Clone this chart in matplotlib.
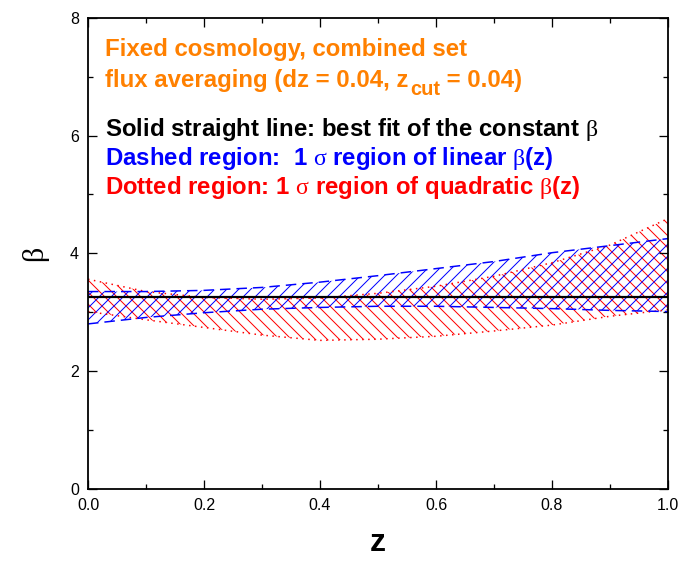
import numpy as np
import matplotlib
matplotlib.use('Agg')
import matplotlib.pyplot as plt
from matplotlib.transforms import offset_copy

# values
z = [0.0, 0.1, 0.2, 0.3, 0.4, 0.5, 0.6, 0.7, 0.8, 0.9, 1.0]
lin_up = [3.35, 3.35, 3.37, 3.42, 3.51, 3.62, 3.74, 3.86, 4.01, 4.13, 4.25]
lin_lo = [2.80, 2.91, 2.99, 3.05, 3.08, 3.10, 3.10, 3.08, 3.06, 3.03, 3.01]
quad_up = [3.56, 3.35, 3.25, 3.22, 3.24, 3.32, 3.44, 3.61, 3.84, 4.14, 4.59]
quad_lo = [3.01, 2.87, 2.74, 2.61, 2.52, 2.54, 2.59, 2.68, 2.78, 2.93, 3.04]
beta_const = 3.25

plt.rcParams['font.family'] = ['Liberation Sans', 'DejaVu Sans']
plt.rcParams['mathtext.fontset'] = 'custom'
plt.rcParams['mathtext.rm'] = 'Liberation Serif'
plt.rcParams['mathtext.it'] = 'Liberation Serif:italic'
plt.rcParams['mathtext.bf'] = 'Liberation Sans:bold'
plt.rcParams['hatch.linewidth'] = 1.0

# dpi 72 so that one point is one pixel
fig = plt.figure(figsize=(681/72, 561/72), dpi=72)
ax = fig.add_axes([88/681, 1-488.7/561, 580/681, 470.8/561])

ax.fill_between(z, quad_lo, quad_up, facecolor='none', edgecolor='red', hatch='\\\\', linewidth=0)
ax.fill_between(z, lin_lo, lin_up, facecolor='none', edgecolor='blue', hatch='//', linewidth=0)
ax.plot(z, quad_up, color='red', linestyle=(0, (1, 3)), linewidth=1.5)
ax.plot(z, quad_lo, color='red', linestyle=(0, (1, 3)), linewidth=1.5)
ax.plot(z, lin_up, color='blue', linestyle=(0, (7, 4)), linewidth=1.5)
ax.plot(z, lin_lo, color='blue', linestyle=(0, (7, 4)), linewidth=1.5)
ax.axhline(beta_const, color='black', linewidth=2.2)

ax.set_xlim(0, 1)
ax.set_ylim(0, 8)
ax.set_xticks(np.arange(0, 1.01, 0.2))
ax.set_xticks(np.arange(0, 1.01, 0.1), minor=True)
ax.set_yticks([0, 2, 4, 6, 8])
ax.set_yticks([1, 3, 5, 7], minor=True)
ax.set_xticklabels(['0.0', '0.2', '0.4', '0.6', '0.8', '1.0'])
ax.tick_params(which='both', direction='in', top=True, right=True, labelsize=16, width=1.3)
ax.tick_params(which='major', length=9, pad=9)
ax.tick_params(which='minor', length=5)
for s in ax.spines.values():
    s.set_linewidth(1.8)

ax.set_xlabel('z', fontsize=32, fontweight='bold', labelpad=15)
ax.set_ylabel('β', fontsize=30, family='Liberation Serif', labelpad=22)

kw = dict(fontsize=24, fontweight='bold', va='baseline', ha='left')
ax.text(0.03, 0.919, 'Fixed cosmology, combined set', color='#ff8000', transform=ax.transAxes, **kw)

# second orange line with a large subscript, built from three pieces
r = fig.canvas.get_renderer()
t1 = ax.text(0.03, 0.853, 'flux averaging (dz = 0.04, z', color='#ff8000', transform=ax.transAxes, **kw)
w1 = t1.get_window_extent(r).width
sub_kw = dict(kw, fontsize=20)
t2 = ax.text(0.03, 0.853, 'cut', color='#ff8000',
             transform=offset_copy(ax.transAxes, fig=fig, x=w1 + 1, y=-8, units='dots'), **sub_kw)
w2 = t2.get_window_extent(r).width
ax.text(0.03, 0.853, ' = 0.04)', color='#ff8000',
        transform=offset_copy(ax.transAxes, fig=fig, x=w1 + w2 + 1, y=0, units='dots'), **kw)

ax.text(0.03, 0.749, r'Solid straight line: best fit of the constant $\mathrm{\beta}$', color='black', transform=ax.transAxes, **kw)
ax.text(0.03, 0.687, r'Dashed region:  1 $\mathrm{\sigma}$ region of linear $\mathrm{\beta}$(z)', color='blue', transform=ax.transAxes, **kw)
ax.text(0.03, 0.626, r'Dotted region: 1 $\mathrm{\sigma}$ region of quadratic $\mathrm{\beta}$(z)', color='red', transform=ax.transAxes, **kw)

fig.savefig('out.png', dpi=72)
